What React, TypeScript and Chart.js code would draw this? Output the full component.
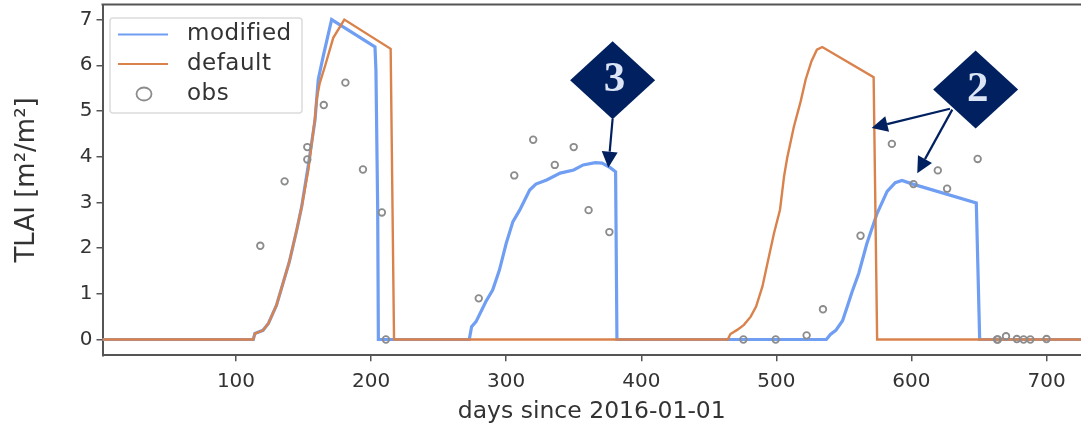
import React, { useEffect, useRef } from "react";
import { Chart, registerables } from "chart.js";

Chart.register(...registerables);

const modifiedDays = [1, 112.8, 114, 120, 124, 130, 139.5, 145, 148.6, 153.5, 158.5, 160.9, 164.6, 170.8, 202.9, 203.6, 204.9, 205.4, 272.7, 274.4, 277.7, 285, 290, 295, 300, 305, 310, 317.4, 322, 330, 340, 350, 357, 366, 371, 377, 381, 382, 537, 540, 544, 549, 552.5, 556, 561, 567, 574.6, 582, 588, 593, 601, 648, 650.5, 726];
const modifiedTlai = [0, 0, 0.13, 0.2, 0.35, 0.75, 1.7, 2.4, 2.9, 3.8, 4.8, 5.69, 6.2, 7.0, 6.4, 5.9, 2.84, 0, 0, 0.28, 0.39, 0.83, 1.08, 1.52, 2.1, 2.58, 2.83, 3.27, 3.4, 3.49, 3.64, 3.71, 3.82, 3.87, 3.86, 3.76, 3.67, 0, 0, 0.11, 0.2, 0.41, 0.72, 1.04, 1.45, 2.1, 2.76, 3.24, 3.43, 3.48, 3.4, 2.99, 0, 0];

const defaultDays = [1, 112.8, 114, 120, 124, 130, 139.5, 145, 148.6, 153.5, 158.5, 159.7, 162, 166, 172, 180.2, 214.5, 217, 464, 466, 471, 476, 481, 485, 489.7, 493.4, 498.3, 502.7, 505.7, 508, 513, 518, 521.7, 526, 530, 534, 572, 574.6, 726];
const defaultTlai = [0, 0, 0.13, 0.2, 0.35, 0.75, 1.7, 2.4, 2.9, 3.7, 4.85, 5.25, 5.61, 5.99, 6.6, 7.0, 6.36, 0, 0, 0.12, 0.21, 0.32, 0.5, 0.72, 1.16, 1.67, 2.33, 2.84, 3.57, 3.97, 4.66, 5.21, 5.69, 6.09, 6.34, 6.4, 5.74, 0, 0];

const obsDays = [118, 136, 152.8, 152.8, 165, 181, 194, 208, 211, 279.7, 306, 320, 336, 350, 361, 376.4, 475.6, 499.5, 522.4, 534.5, 562.3, 585.5, 601.5, 619.5, 626.4, 649, 663.3, 664, 670, 678, 683, 688, 700];
const obsTlai = [2.05, 3.46, 4.21, 3.94, 5.13, 5.62, 3.72, 2.78, 0, 0.9, 3.59, 4.37, 3.82, 4.21, 2.83, 2.35, 0, 0, 0.09, 0.66, 2.27, 4.28, 3.4, 3.7, 3.3, 3.95, 0, 0, 0.07, 0.01, 0, 0, 0.01];

const xTicks = [100, 200, 300, 400, 500, 600, 700];
const yTicks = [0, 1, 2, 3, 4, 5, 6, 7];

const badgeLabels = ["3", "2"];
const badgeDays = [378.8, 647.5];
const badgeTlai = [5.67, 5.47];
const arrowStartDays = [378.8, 628.5, 630.2];
const arrowStartTlai = [4.83, 5.05, 5.03];
const arrowTipDays = [375.6, 570.5, 604.3];
const arrowTipTlai = [3.76, 4.63, 3.64];

const BLUE = "#6f9ef2";
const ORANGE = "#d9824c";
const GRAY = "#8c8c8c";
const NAVY = "#00205f";
const SPINE = "#555555";
const TEXT = "#333333";
const SANS = "'DejaVu Sans', sans-serif";

const zip = (xs: number[], ys: number[]) => xs.map((x, i) => ({ x, y: ys[i] }));

const noMargins = (axis: any) => {
  axis.paddingTop = 0;
  axis.paddingBottom = 0;
  axis.paddingLeft = 0;
  axis.paddingRight = 0;
};

const framePlugin = {
  id: "frame",
  beforeDatasetsDraw(chart: any) {
    const { ctx, chartArea } = chart;
    ctx.save();
    ctx.strokeStyle = SPINE;
    ctx.lineWidth = 2;
    ctx.beginPath();
    ctx.moveTo(chartArea.left - 1, chartArea.top);
    ctx.lineTo(chartArea.right, chartArea.top);
    ctx.stroke();
    ctx.restore();
  },
};

const legendPlugin = {
  id: "boxLegend",
  afterDatasetsDraw(chart: any) {
    const { ctx } = chart;
    const rows = [34.5, 64, 94];
    ctx.save();
    ctx.fillStyle = "rgba(255,255,255,0.9)";
    ctx.strokeStyle = "#dcdcdc";
    ctx.lineWidth = 1.5;
    ctx.beginPath();
    ctx.roundRect(110, 18, 192, 95, 3);
    ctx.fill();
    ctx.stroke();
    chart.data.datasets.forEach((ds: any, i: number) => {
      const y = rows[i];
      if (ds.showLine) {
        ctx.strokeStyle = ds.borderColor;
        ctx.lineWidth = 2;
        ctx.beginPath();
        ctx.moveTo(118, y);
        ctx.lineTo(168, y);
        ctx.stroke();
      } else {
        ctx.strokeStyle = ds.borderColor;
        ctx.lineWidth = 1.8;
        ctx.beginPath();
        ctx.ellipse(144, y, 7.5, 6.5, 0, 0, Math.PI * 2);
        ctx.stroke();
      }
      ctx.fillStyle = TEXT;
      ctx.font = `23px ${SANS}`;
      (ctx as any).letterSpacing = "0.5px";
      ctx.textAlign = "left";
      ctx.textBaseline = "middle";
      ctx.fillText(ds.label, 187, y);
    });
    ctx.restore();
  },
};

const drawArrow = (ctx: any, x0: number, y0: number, x1: number, y1: number) => {
  const a = Math.atan2(y1 - y0, x1 - x0);
  const len = 16;
  const half = 8;
  const bx = x1 - Math.cos(a) * len;
  const by = y1 - Math.sin(a) * len;
  ctx.strokeStyle = NAVY;
  ctx.lineWidth = 2.2;
  ctx.beginPath();
  ctx.moveTo(x0, y0);
  ctx.lineTo(bx, by);
  ctx.stroke();
  ctx.fillStyle = NAVY;
  ctx.beginPath();
  ctx.moveTo(x1, y1);
  ctx.lineTo(bx - Math.sin(a) * half, by + Math.cos(a) * half);
  ctx.lineTo(bx + Math.sin(a) * half, by - Math.cos(a) * half);
  ctx.closePath();
  ctx.fill();
};

const calloutPlugin = {
  id: "callouts",
  afterDatasetsDraw(chart: any) {
    const { ctx, scales } = chart;
    const sx = scales.x;
    const sy = scales.y;
    ctx.save();
    arrowTipDays.forEach((_, i) => {
      drawArrow(
        ctx,
        sx.getPixelForValue(arrowStartDays[i]),
        sy.getPixelForValue(arrowStartTlai[i]),
        sx.getPixelForValue(arrowTipDays[i]),
        sy.getPixelForValue(arrowTipTlai[i])
      );
    });
    badgeLabels.forEach((label, i) => {
      const cx = sx.getPixelForValue(badgeDays[i]);
      const cy = sy.getPixelForValue(badgeTlai[i]);
      ctx.fillStyle = NAVY;
      ctx.beginPath();
      ctx.moveTo(cx, cy - 39);
      ctx.lineTo(cx + 42.5, cy);
      ctx.lineTo(cx, cy + 39);
      ctx.lineTo(cx - 42.5, cy);
      ctx.closePath();
      ctx.fill();
      ctx.fillStyle = "#dbe5f6";
      ctx.font = "bold 43px 'Liberation Serif', serif";
      ctx.textAlign = "center";
      ctx.textBaseline = "middle";
      ctx.fillText(label, cx + 2, cy);
    });
    ctx.restore();
  },
};

export default function App() {
  const ref = useRef<HTMLCanvasElement>(null);

  useEffect(() => {
    document.body.style.margin = "0";
    document.body.style.background = "#ffffff";
    const chart = new Chart(ref.current as HTMLCanvasElement, {
      type: "scatter",
      data: {
        datasets: [
          {
            label: "modified",
            data: zip(modifiedDays, modifiedTlai),
            showLine: true,
            borderColor: BLUE,
            borderWidth: 3.2,
            pointRadius: 0,
            tension: 0,
            order: 2,
          },
          {
            label: "default",
            data: zip(defaultDays, defaultTlai),
            showLine: true,
            borderColor: ORANGE,
            borderWidth: 2.4,
            pointRadius: 0,
            tension: 0,
            order: 1,
          },
          {
            label: "obs",
            data: zip(obsDays, obsTlai),
            showLine: false,
            borderColor: GRAY,
            backgroundColor: "transparent",
            pointBorderWidth: 1.8,
            pointRadius: 3.3,
            order: 0,
          },
        ],
      } as any,
      options: {
        responsive: false,
        animation: false,
        layout: { autoPadding: false, padding: { left: 0, top: 4.5, right: 0, bottom: 0 } },
        plugins: {
          legend: { display: false },
          tooltip: { enabled: false },
        },
        scales: {
          x: {
            type: "linear",
            min: 1.2,
            max: 725.5,
            afterBuildTicks: (axis: any) => {
              axis.ticks = xTicks.map((value) => ({ value }));
            },
            afterFit: (axis: any) => {
              axis.height = 70.7;
              noMargins(axis);
            },
            grid: { drawOnChartArea: false, drawTicks: true, tickLength: 6, color: SPINE, lineWidth: 1.5 },
            border: { display: true, color: SPINE, width: 2 },
            ticks: {
              color: TEXT,
              font: { family: SANS, size: 20 },
              maxRotation: 0,
              padding: 8,
              autoSkip: false,
              callback: (v: any) => String(v),
            },
            title: {
              display: true,
              text: "days since 2016-01-01",
              color: TEXT,
              font: { family: SANS, size: 23.5 },
              padding: { top: 3, bottom: 0 },
            },
          },
          y: {
            type: "linear",
            min: -0.346,
            max: 7.33,
            afterBuildTicks: (axis: any) => {
              axis.ticks = yTicks.map((value) => ({ value }));
            },
            afterFit: (axis: any) => {
              axis.width = 102.5;
              noMargins(axis);
            },
            grid: { drawOnChartArea: false, drawTicks: true, tickLength: 6, color: SPINE, lineWidth: 1.5 },
            border: { display: true, color: SPINE, width: 2 },
            ticks: {
              color: TEXT,
              font: { family: SANS, size: 20 },
              padding: 4,
              autoSkip: false,
              callback: (v: any) => String(v),
            },
            title: {
              display: true,
              text: "TLAI [m²/m²]",
              color: TEXT,
              font: { family: SANS, size: 26 },
              padding: { top: 12, bottom: 0 },
            },
          },
        },
      },
      plugins: [framePlugin, legendPlugin, calloutPlugin],
    } as any);
    return () => chart.destroy();
  }, []);

  return <canvas ref={ref} width={1081} height={426} style={{ display: "block" }} />;
}
